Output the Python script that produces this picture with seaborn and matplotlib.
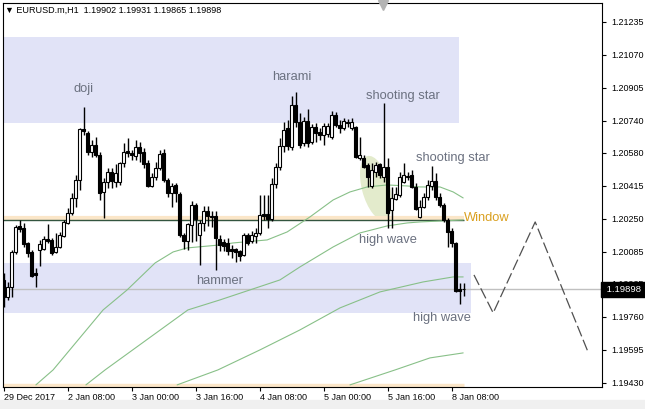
import numpy as np
import pandas as pd
import seaborn as sns
import matplotlib.pyplot as plt
from matplotlib.patches import Rectangle, Ellipse
from matplotlib.transforms import Affine2D

# EURUSD H1 candles
opens = [1.19945, 1.19860, 1.19910, 1.20085, 1.20215, 1.20205, 1.20130, 1.20085, 1.19980, 1.20095,
         1.20100, 1.20150, 1.20145, 1.20085, 1.20110, 1.20165, 1.20230, 1.20280, 1.20355, 1.20445,
         1.20700, 1.20680, 1.20585, 1.20620, 1.20570, 1.20385, 1.20435, 1.20485, 1.20435, 1.20435,
         1.20530, 1.20590, 1.20580, 1.20565, 1.20610, 1.20585, 1.20530, 1.20415, 1.20460, 1.20505,
         1.20580, 1.20445, 1.20380, 1.20420, 1.20375, 1.20170, 1.20140, 1.20220, 1.20320, 1.20170,
         1.20230, 1.20290, 1.20265, 1.20265, 1.20150, 1.20135, 1.20130, 1.20100, 1.20100, 1.20090,
         1.20070, 1.20170, 1.20140, 1.20165, 1.20180, 1.20275, 1.20275, 1.20250, 1.20425, 1.20510,
         1.20615, 1.20705, 1.20610, 1.20820, 1.20735, 1.20630, 1.20740, 1.20635, 1.20710, 1.20685,
         1.20670, 1.20675, 1.20660, 1.20770, 1.20720, 1.20705, 1.20735, 1.20705, 1.20710, 1.20555,
         1.20555, 1.20520, 1.20415, 1.20485, 1.20525, 1.20460, 1.20510, 1.20295, 1.20350, 1.20370,
         1.20435, 1.20460, 1.20470, 1.20410, 1.20260, 1.20310, 1.20360, 1.20415, 1.20440, 1.20360,
         1.20320, 1.20245, 1.20190, 1.20130, 1.19900, 1.19902]
highs = [1.19980, 1.19935, 1.20095, 1.20220, 1.20245, 1.20230, 1.20135, 1.20095, 1.20005, 1.20145,
         1.20165, 1.20225, 1.20155, 1.20180, 1.20185, 1.20245, 1.20305, 1.20380, 1.20470, 1.20705,
         1.20810, 1.20690, 1.20645, 1.20660, 1.20585, 1.20455, 1.20505, 1.20505, 1.20525, 1.20535,
         1.20630, 1.20655, 1.20595, 1.20645, 1.20635, 1.20605, 1.20545, 1.20480, 1.20535, 1.20595,
         1.20600, 1.20455, 1.20430, 1.20430, 1.20385, 1.20180, 1.20230, 1.20340, 1.20330, 1.20245,
         1.20315, 1.20315, 1.20290, 1.20290, 1.20170, 1.20150, 1.20155, 1.20120, 1.20105, 1.20095,
         1.20180, 1.20180, 1.20190, 1.20205, 1.20370, 1.20370, 1.20370, 1.20455, 1.20530, 1.20655,
         1.20735, 1.20745, 1.20865, 1.20885, 1.20780, 1.20760, 1.20800, 1.20725, 1.20730, 1.20705,
         1.20730, 1.20730, 1.20790, 1.20785, 1.20745, 1.20755, 1.20750, 1.20755, 1.20715, 1.20660,
         1.20570, 1.20530, 1.20530, 1.20535, 1.20530, 1.20830, 1.20555, 1.20410, 1.20410, 1.20485,
         1.20530, 1.20485, 1.20495, 1.20430, 1.20345, 1.20380, 1.20445, 1.20515, 1.20480, 1.20380,
         1.20330, 1.20255, 1.20205, 1.20135, 1.19930, 1.19931]
lows = [1.19810, 1.19845, 1.19860, 1.20075, 1.20185, 1.20110, 1.20060, 1.19960, 1.19910, 1.20015,
        1.20095, 1.20130, 1.20070, 1.20080, 1.20105, 1.20160, 1.20225, 1.20270, 1.20310, 1.20395,
        1.20670, 1.20570, 1.20560, 1.20560, 1.20345, 1.20255, 1.20405, 1.20405, 1.20410, 1.20420,
        1.20510, 1.20560, 1.20545, 1.20545, 1.20535, 1.20505, 1.20410, 1.20410, 1.20445, 1.20495,
        1.20435, 1.20360, 1.20310, 1.20335, 1.20160, 1.20100, 1.20095, 1.20135, 1.20140, 1.20020,
        1.20190, 1.20215, 1.20210, 1.19995, 1.20090, 1.20090, 1.20070, 1.20055, 1.20035, 1.20040,
        1.20065, 1.20120, 1.20130, 1.20130, 1.20170, 1.20245, 1.20205, 1.20240, 1.20405, 1.20495,
        1.20585, 1.20595, 1.20595, 1.20710, 1.20605, 1.20615, 1.20610, 1.20625, 1.20635, 1.20645,
        1.20620, 1.20660, 1.20650, 1.20710, 1.20680, 1.20695, 1.20710, 1.20695, 1.20555, 1.20545,
        1.20505, 1.20410, 1.20405, 1.20460, 1.20455, 1.20435, 1.20205, 1.20205, 1.20345, 1.20360,
        1.20430, 1.20445, 1.20405, 1.20295, 1.20255, 1.20305, 1.20345, 1.20395, 1.20345, 1.20310,
        1.20235, 1.20110, 1.20110, 1.19885, 1.19825, 1.19865]
closes = [1.19860, 1.19910, 1.20085, 1.20210, 1.20200, 1.20125, 1.20080, 1.19965, 1.19970, 1.20125,
          1.20150, 1.20140, 1.20080, 1.20110, 1.20170, 1.20235, 1.20280, 1.20355, 1.20445, 1.20700,
          1.20690, 1.20585, 1.20620, 1.20570, 1.20380, 1.20435, 1.20485, 1.20440, 1.20480, 1.20530,
          1.20585, 1.20580, 1.20570, 1.20610, 1.20580, 1.20525, 1.20415, 1.20460, 1.20505, 1.20575,
          1.20445, 1.20380, 1.20415, 1.20380, 1.20170, 1.20140, 1.20225, 1.20320, 1.20250, 1.20230,
          1.20290, 1.20265, 1.20262, 1.20155, 1.20120, 1.20115, 1.20090, 1.20090, 1.20085, 1.20065,
          1.20170, 1.20130, 1.20170, 1.20180, 1.20270, 1.20265, 1.20250, 1.20425, 1.20510, 1.20615,
          1.20695, 1.20615, 1.20820, 1.20735, 1.20620, 1.20740, 1.20630, 1.20710, 1.20680, 1.20670,
          1.20715, 1.20715, 1.20770, 1.20720, 1.20705, 1.20740, 1.20730, 1.20735, 1.20560, 1.20570,
          1.20510, 1.20460, 1.20495, 1.20520, 1.20470, 1.20510, 1.20280, 1.20355, 1.20375, 1.20460,
          1.20470, 1.20465, 1.20410, 1.20300, 1.20310, 1.20360, 1.20420, 1.20440, 1.20360, 1.20320,
          1.20245, 1.20185, 1.20130, 1.19890, 1.19890, 1.19898]

x_ticks = [0, 16, 32, 48, 64, 80, 96, 112]
x_labels = ["29 Dec 2017", "2 Jan 08:00", "3 Jan 00:00", "3 Jan 16:00",
            "4 Jan 08:00", "5 Jan 00:00", "5 Jan 16:00", "8 Jan 08:00"]
y_ticks = [1.19430, 1.19595, 1.19760, 1.19925, 1.20085, 1.20250,
           1.20415, 1.20580, 1.20740, 1.20905, 1.21070, 1.21235]
last_price = 1.19898
window_level = 1.20243

# moving averages (bar index, price)
ma1_x = [8.1, 12.4, 24.9, 30.9, 37.9, 42.4, 45.9, 54.1, 57.4, 65.9, 70.9, 76.6, 82.4, 86.6,
         90.9, 95.9, 100.9, 104.1, 109.1, 112.4, 114.9]
ma1_y = [1.19420, 1.19495, 1.19795, 1.19895, 1.20030, 1.20085, 1.20105, 1.20120, 1.20130,
         1.20145, 1.20185, 1.20260, 1.20345, 1.20385, 1.20410, 1.20420, 1.20415, 1.20410,
         1.20410, 1.20385, 1.20355]
ma2_x = [20.6, 25.4, 46.1, 54.1, 69.1, 74.1, 82.4, 89.1, 95.9, 100.9, 104.1, 114.9]
ma2_y = [1.19420, 1.19495, 1.19795, 1.19845, 1.19945, 1.20010, 1.20110, 1.20180, 1.20215,
         1.20230, 1.20235, 1.20245]
ma3_x = [43.4, 53.6, 64.1, 74.1, 84.1, 94.1, 104.9, 112.4, 114.9]
ma3_y = [1.19420, 1.19495, 1.19595, 1.19695, 1.19805, 1.19885, 1.19935, 1.19960, 1.19960]
ma4_x = [86.6, 97.9, 106.6, 114.9]
ma4_y = [1.19420, 1.19495, 1.19555, 1.19580]

# projected zigzag
zig_x = [117.6, 122.4, 132.9, 146.1]
zig_y = [1.19970, 1.19780, 1.20235, 1.19585]

df = pd.DataFrame({"o": opens, "h": highs, "l": lows, "c": closes})
df["i"] = np.arange(len(df))
df["bottom"] = df[["o", "c"]].min(axis=1)
df["height"] = (df["c"] - df["o"]).abs().clip(lower=0.00002)
df["fill"] = np.where(df["c"] > df["o"], "white", "black")

sns.set_theme(style="white")
plt.rcParams["font.family"] = ["Liberation Sans", "DejaVu Sans"]

fig = plt.figure(figsize=(6.45, 4.09), dpi=100)
fig.patches.append(Rectangle((0, 0), 1, 9 / 409, transform=fig.transFigure,
                             color="#f0f0f0", zorder=0))
ax = fig.add_axes([2.7 / 645, 22.5 / 409, 599.3 / 645, 383.5 / 409])
ax.set_xlim(-0.2, 149.6)
ax.set_ylim(1.19412, 1.21330)

lav = "#e1e3f7"
ax.add_patch(Rectangle((-0.2, 1.20730), 114.1, 1.21160 - 1.20730, color=lav, lw=0, zorder=0))
ax.add_patch(Rectangle((-0.2, 1.19780), 117.0, 1.20030 - 1.19780, color=lav, lw=0, zorder=0))

# highlight ellipse
cx, cy = ax.transData.transform((93.1, 1.20405))
ax.add_patch(Ellipse((0, 0), 28, 66, angle=15, transform=Affine2D().translate(cx, cy),
                     color="#e3ebcc", lw=0, zorder=1))

# horizontal levels
ax.hlines(1.20257, -0.2, 115, color="#fbe6c8", lw=3, zorder=1)
ax.hlines(window_level, -0.2, 115, color="#33553f", lw=1, zorder=2)
ax.hlines(1.19422, -0.2, 115, color="#fbe6c8", lw=2.5, zorder=1)
ax.axhline(last_price, color="#c0c0c0", lw=1, zorder=1)

# moving averages
for mx, my in [(ma1_x, ma1_y), (ma2_x, ma2_y), (ma3_x, ma3_y), (ma4_x, ma4_y)]:
    sns.lineplot(x=mx, y=my, sort=False, estimator=None, color="#88c088", lw=0.8, ax=ax, zorder=2)

sns.lineplot(x=zig_x, y=zig_y, sort=False, estimator=None, color="#505050", lw=0.9,
             linestyle=(0, (9, 3)), ax=ax, zorder=2)

# candles
ax.vlines(df["i"], df["l"], df["h"], color="black", lw=1, zorder=3)
ax.bar(df["i"], df["height"], bottom=df["bottom"], width=0.7, color=df["fill"],
       edgecolor="black", linewidth=0.8, zorder=4)

# pattern labels
lab_c = "#6b7180"
for txt, xi, yp in [("doji", 20.1, 1.20900), ("harami", 72.1, 1.20960),
                    ("shooting star", 99.9, 1.20865), ("shooting star", 112.4, 1.20555),
                    ("high wave", 96.1, 1.20145), ("hammer", 53.9, 1.19940),
                    ("high wave", 109.6, 1.19755)]:
    ax.text(xi, yp, txt, color=lab_c, fontsize=9.3, ha="center", va="center", zorder=5)
ax.text(115.1, 1.20255, "Window", color="#daa020", fontsize=9.3, ha="left", va="center", zorder=5)

# chart shift marker
ax.plot([94.9], [1.21318], marker="v", ms=7, color="#b4b4b4", clip_on=False, zorder=6)

# axes
ax.yaxis.tick_right()
ax.set_yticks(y_ticks)
ax.set_yticklabels([f"{v:.5f}" for v in y_ticks])
ax.set_xticks(x_ticks)
ax.set_xticklabels(x_labels)
for lab in ax.get_xticklabels():
    lab.set_ha("left")
ax.tick_params(axis="y", direction="out", length=3, width=0.8, pad=4, labelsize=6.5,
               colors="black", right=True, left=False)
ax.tick_params(axis="x", direction="out", length=3, width=0.8, pad=2, labelsize=6.5,
               colors="black", bottom=True)
for sp in ax.spines.values():
    sp.set_color("black")
    sp.set_linewidth(0.8)
ax.grid(False)

# current price tag, drawn over the hidden 1.19925 tick label as in the terminal
ax.text(1.003, last_price, " 1.19898  ", transform=ax.get_yaxis_transform(), color="white",
        fontsize=6.8, ha="left", va="center", zorder=7,
        bbox=dict(boxstyle="square,pad=0.3", fc="black", ec="black"))

fig.text(5 / 645, 1 - 10 / 409, "\u25bc EURUSD.m,H1  1.19902 1.19931 1.19865 1.19898",
         fontsize=6.5, color="black", ha="left", va="center")

fig.savefig("out.png", dpi=100)
